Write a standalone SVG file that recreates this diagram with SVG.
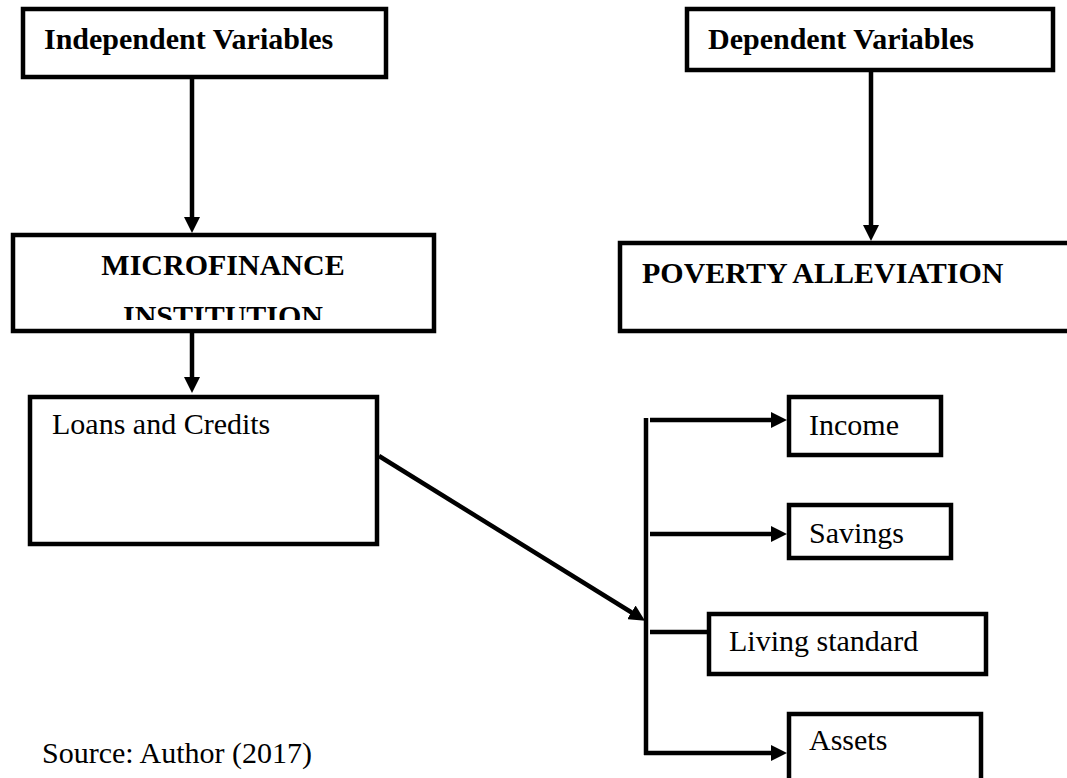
<svg xmlns="http://www.w3.org/2000/svg" width="1067" height="778" viewBox="0 0 1067 778">
<style>
.box{fill:#fff;stroke:#000;stroke-width:4.5}
.t{font-family:"Liberation Serif","Times New Roman",serif;font-size:30px;fill:#000}
.b{font-weight:bold}
.c{fill:none;stroke:#000;stroke-width:4.5}
</style>
<defs>
<marker id="ah" markerUnits="userSpaceOnUse" markerWidth="16" markerHeight="16" refX="6" refY="8" orient="auto">
<path d="M0,0 L16,8 L0,16 z" fill="#000"/>
</marker>
<clipPath id="mfiClip"><rect x="13" y="235" width="421" height="85"/></clipPath>
</defs>
<rect width="1067" height="778" fill="#fff"/>
<g id="connectors">
<line class="c" x1="192" y1="79" x2="192" y2="223" marker-end="url(#ah)"/>
<line class="c" x1="871" y1="72" x2="871" y2="231" marker-end="url(#ah)"/>
<line class="c" x1="192" y1="333" x2="192" y2="383" marker-end="url(#ah)"/>
<line class="c" x1="379" y1="456" x2="636.5" y2="615.5" marker-end="url(#ah)"/>
<line class="c" x1="646" y1="418" x2="646" y2="755"/>
<line class="c" x1="650" y1="420" x2="777" y2="420" marker-end="url(#ah)"/>
<line class="c" x1="650" y1="534" x2="777" y2="534" marker-end="url(#ah)"/>
<line class="c" x1="650" y1="632" x2="709" y2="632"/>
<line class="c" x1="644" y1="753" x2="777" y2="753" marker-end="url(#ah)"/>
</g>
<g id="indep">
<rect class="box" x="23" y="9" width="363" height="68"/>
<text class="t b" x="44" y="49">Independent Variables</text>
</g>
<g id="dep">
<rect class="box" x="687" y="9" width="366" height="61"/>
<text class="t b" x="708" y="49">Dependent Variables</text>
</g>
<g id="mfi">
<rect class="box" x="13" y="235" width="421" height="96"/>
<g clip-path="url(#mfiClip)">
<text class="t b" x="223" y="275" text-anchor="middle">MICROFINANCE</text>
<text class="t b" x="223" y="326" text-anchor="middle">INSTITUTION</text>
</g>
</g>
<g id="poverty">
<rect class="box" x="620" y="243" width="460" height="88"/>
<text class="t b" x="642" y="283">POVERTY ALLEVIATION</text>
</g>
<g id="loans">
<rect class="box" x="30" y="397" width="347" height="147"/>
<text class="t" x="52" y="434">Loans and Credits</text>
</g>
<g id="income">
<rect class="box" x="789" y="397" width="152" height="58"/>
<text class="t" x="809" y="435">Income</text>
</g>
<g id="savings">
<rect class="box" x="789" y="505" width="162" height="53"/>
<text class="t" x="809" y="543">Savings</text>
</g>
<g id="living">
<rect class="box" x="709" y="614" width="277" height="60"/>
<text class="t" x="729" y="651">Living standard</text>
</g>
<g id="assets">
<rect class="box" x="789" y="714" width="192" height="80"/>
<text class="t" x="809" y="750">Assets</text>
</g>
<g id="source">
<text class="t" x="42" y="763">Source: Author (2017)</text>
</g>
</svg>
